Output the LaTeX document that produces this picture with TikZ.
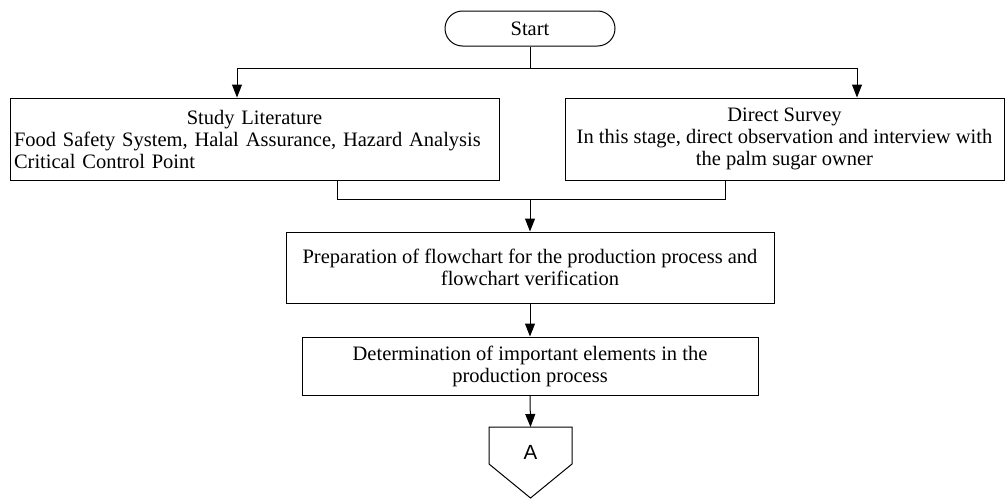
\documentclass[tikz,border=0pt]{standalone}
\usepackage{fontspec}
\setmainfont{Liberation Serif}
\newfontfamily\labelsans{Liberation Sans}
\usetikzlibrary{arrows.meta}

\begin{document}
\begin{tikzpicture}[x=1pt,y=-1pt,
    every node/.style={font=\fontsize{20.5}{22}\selectfont},
    flowbox/.style={draw=black, line width=1pt, inner sep=0pt, align=center},
    terminal/.style={draw=black, line width=1pt, rounded corners=17.5pt,
                     minimum width=170pt, minimum height=35pt, inner sep=0pt},
    link/.style={line width=1pt},
    flow/.style={line width=1pt, -{Triangle[width=10pt,length=13pt]}}]

  \useasboundingbox (0,0) rectangle (1006,498);

  % start terminal
  \node[terminal] (start) at (530,28.5) {Start};

  % first stage: two parallel activities
  \node[flowbox, minimum width=489pt, minimum height=82pt,
        text width=481pt, inner xsep=4pt, align=left] (lit) at (254.5,139)
    {\makebox[\linewidth][c]{Study Literature}\\
     Food Safety System, Halal Assurance, Hazard Analysis\\
     Critical Control Point};
  \node[flowbox, minimum width=439pt, minimum height=82pt] (survey) at (784.5,139)
    {Direct Survey\\
     In this stage, direct observation and interview with\\
     the palm sugar owner};

  % following steps
  \node[flowbox, minimum width=488pt, minimum height=71pt] (prep) at (530,267.5)
    {Preparation of flowchart for the production process and\\
     flowchart verification};
  \node[flowbox, minimum width=456pt, minimum height=58pt] (elem) at (530,366)
    {Determination of important elements in the\\
     production process};

  % off-page connector
  \coordinate (offtop) at (530.5,427);
  \draw[link] (489,427) -- (572,427) -- (572,464) -- (530.5,498) -- (489,464) -- cycle;
  \node[font=\labelsans\fontsize{20.5}{22}\selectfont] (offA) at (530.5,452) {A};

  % split from start to the two activities
  \coordinate (splitL) at (237,68);
  \coordinate (splitR) at (857,68);
  \draw[link] (start.south) -- (start.south |- splitL);
  \draw[link] (splitL) -- (splitR);
  \draw[flow] (splitL) -- (splitL |- lit.north);
  \draw[flow] (splitR) -- (splitR |- survey.north);

  % merge of the two activities
  \coordinate (mergeL) at (337,199);
  \coordinate (mergeR) at (725,199);
  \draw[link] (mergeL |- lit.south) -- (mergeL) -- (mergeR) -- (mergeR |- survey.south);
  \draw[flow] (prep.north |- mergeL) -- (prep.north);

  % main sequence
  \draw[flow] (prep.south) -- (elem.north);
  \draw[flow] (elem.south) -- (offtop);
\end{tikzpicture}
\end{document}
